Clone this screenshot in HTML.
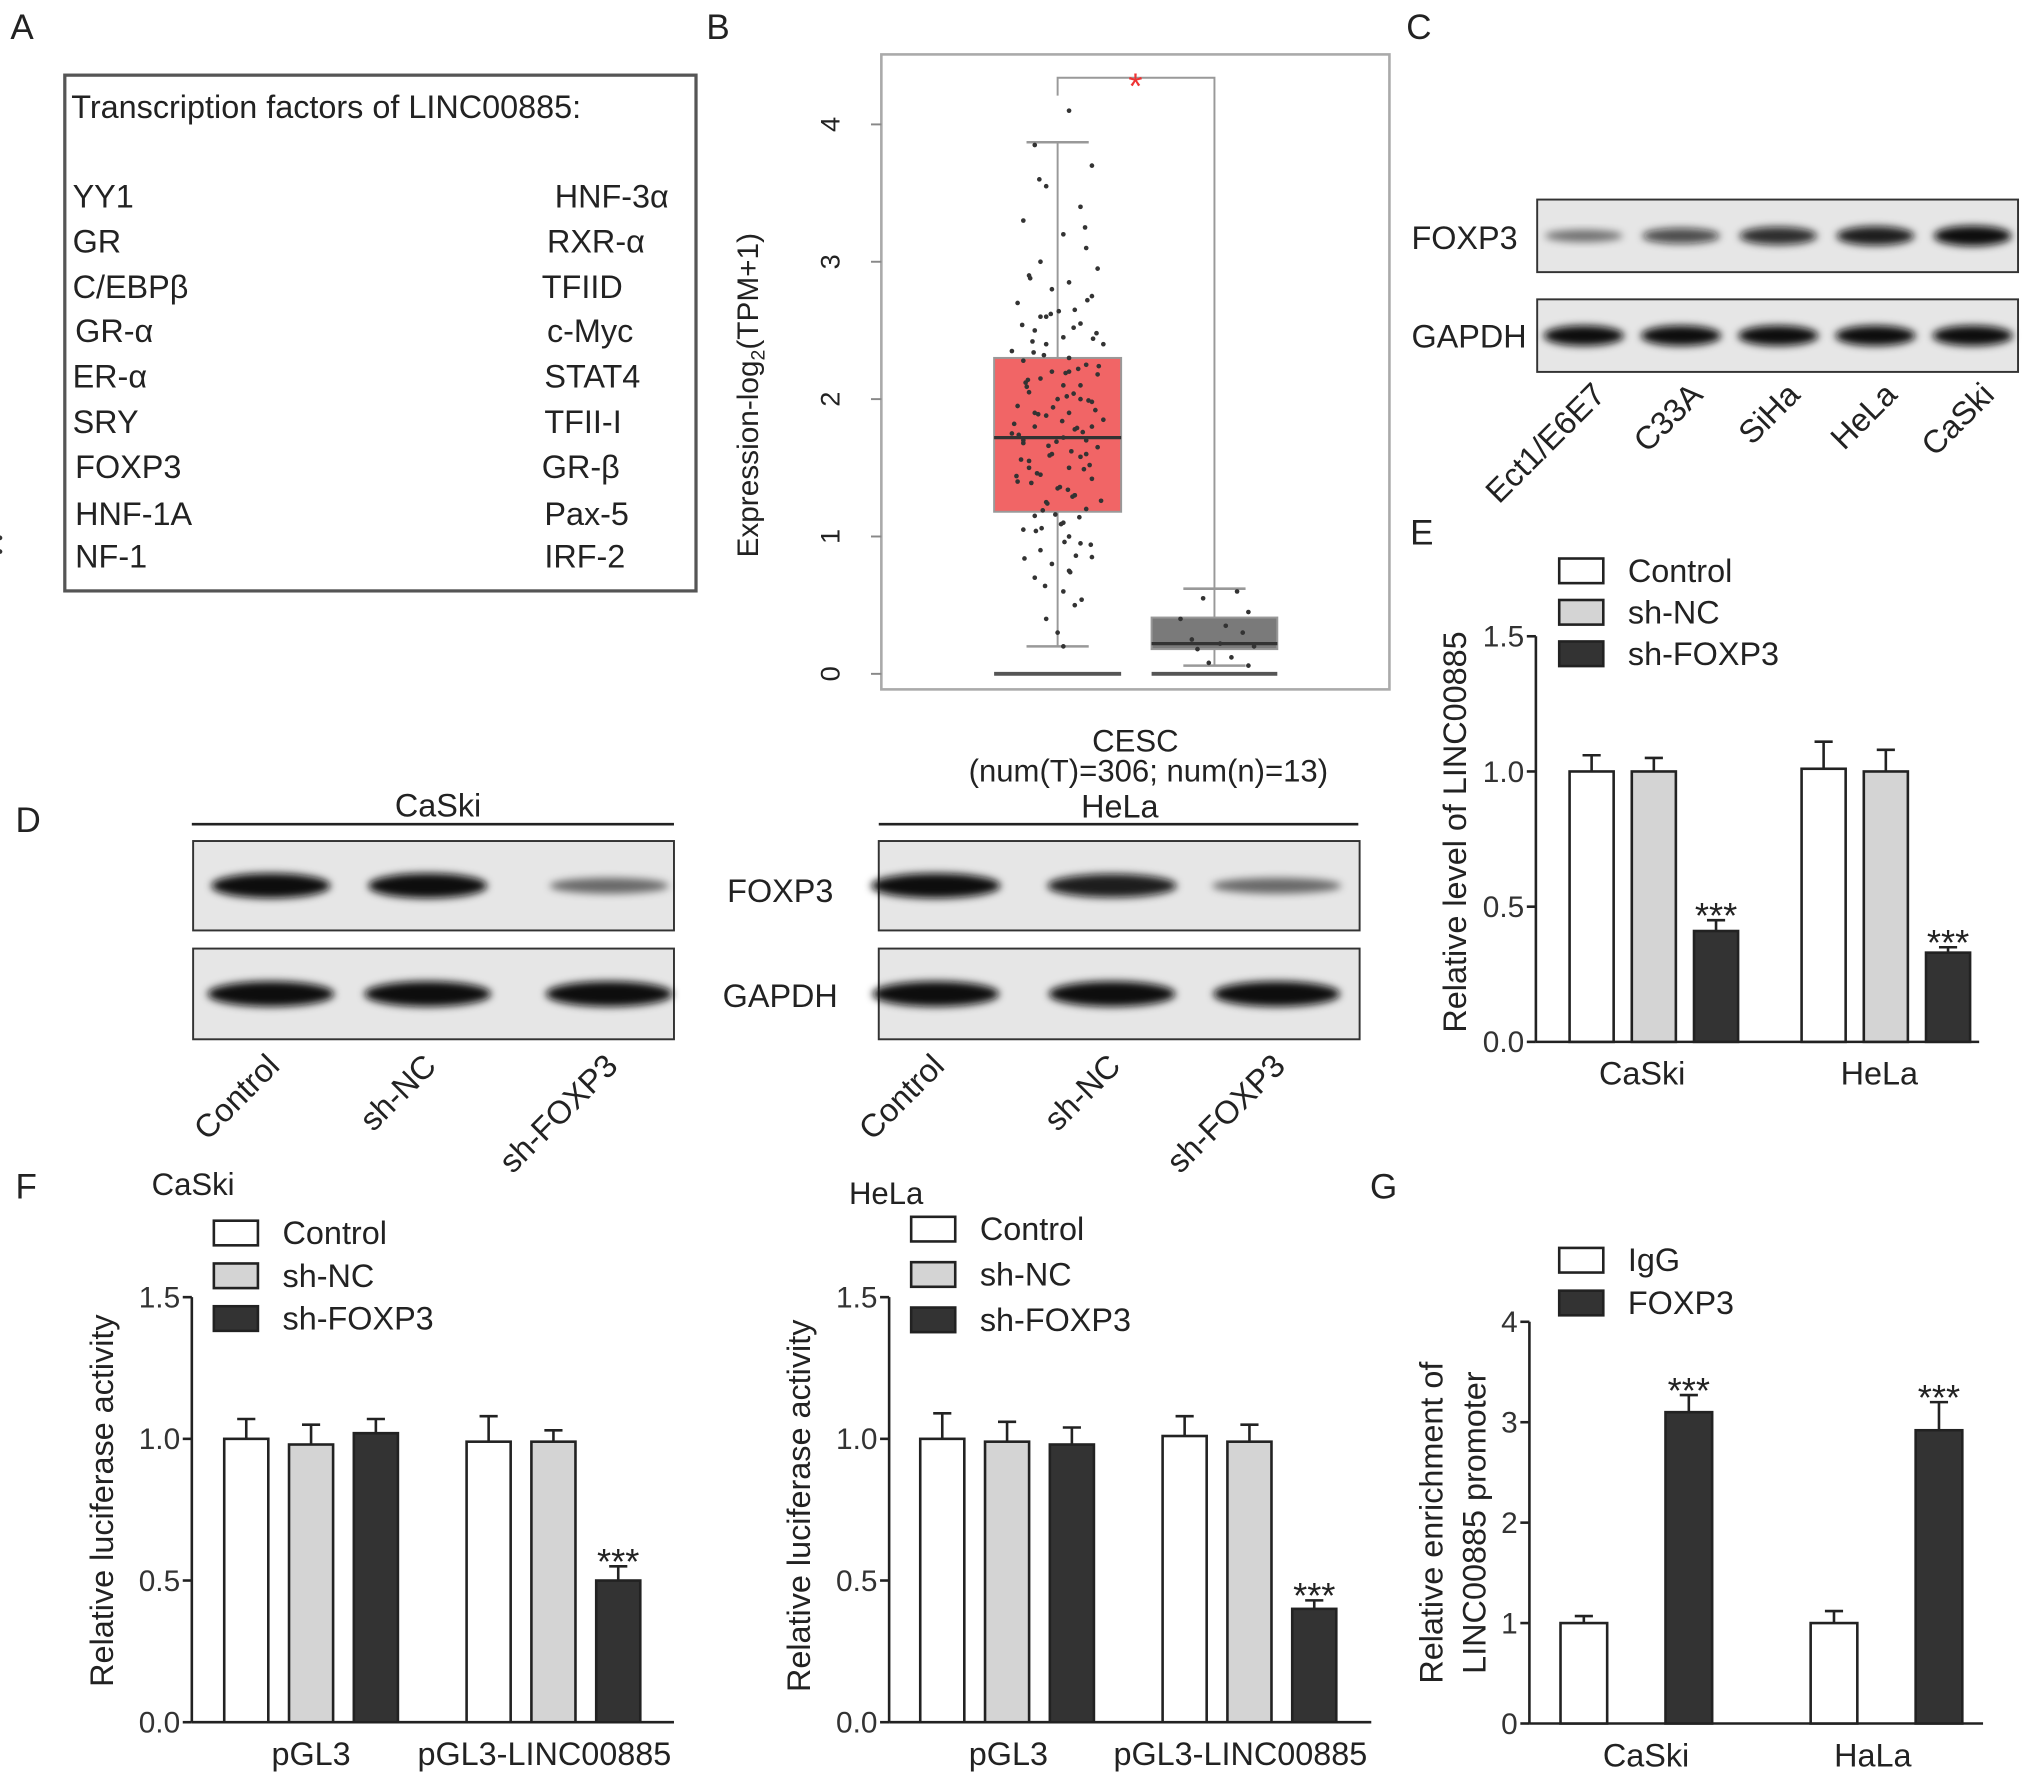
<!DOCTYPE html>
<html><head><meta charset="utf-8">
<style>
html,body{margin:0;padding:0;background:#fff;}
svg{display:block;font-family:"Liberation Sans",Arial,sans-serif;}
</style></head>
<body>
<svg id="fig" width="2031" height="1787" viewBox="0 0 1567 1379" preserveAspectRatio="none" xmlns="http://www.w3.org/2000/svg">
<defs><filter id="blur" x="-20%" y="-50%" width="140%" height="200%"><feGaussianBlur stdDeviation="3"/></filter></defs>
<rect width="1567" height="1379" fill="#fff"/>
<g font-size="27" fill="#222">
<text x="8" y="30">A</text><text x="545" y="30">B</text><text x="1085" y="30">C</text>
<text x="12" y="642">D</text><text x="1088" y="420">E</text><text x="12" y="925">F</text><text x="1057" y="925">G</text>
</g>
<g font-size="25" fill="#222">
<rect x="50" y="58" width="487" height="398" fill="none" stroke="#555" stroke-width="2.5"/>
<text x="55" y="91">Transcription factors of LINC00885:</text>
<text x="56" y="160">YY1</text><text x="56" y="195">GR</text><text x="56" y="230">C/EBPβ</text>
<text x="58" y="264">GR-α</text><text x="56" y="299">ER-α</text><text x="56" y="334">SRY</text>
<text x="58" y="369">FOXP3</text><text x="58" y="405">HNF-1A</text><text x="58" y="438">NF-1</text>
<text x="428" y="160">HNF-3α</text><text x="422" y="195">RXR-α</text><text x="418" y="230">TFIID</text>
<text x="422" y="264">c-Myc</text><text x="420" y="299">STAT4</text><text x="420" y="334">TFII-I</text>
<text x="418" y="369">GR-β</text><text x="420" y="405">Pax-5</text><text x="420" y="438">IRF-2</text>
</g>
<g id="panelB">
<rect x="680" y="42" width="392" height="490" fill="none" stroke="#aaa" stroke-width="2"/>
</g>
<g id="panelC" font-size="25" fill="#222">
<text x="1089" y="192">FOXP3</text><text x="1089" y="268">GAPDH</text>
</g>
<g id="panelD" font-size="25" fill="#222">
<line x1="148" y1="636" x2="520" y2="636" stroke="#222" stroke-width="2"/>
<text x="338" y="630" text-anchor="middle">CaSki</text>
<line x1="678" y1="636" x2="1048" y2="636" stroke="#222" stroke-width="2"/>
<text x="864" y="631" text-anchor="middle">HeLa</text>
<text x="602" y="696" text-anchor="middle">FOXP3</text>
<text x="602" y="777" text-anchor="middle">GAPDH</text>
</g>
<g id="charts"></g>
</svg>
<script>
const NS="http://www.w3.org/2000/svg";
function mk(tag,attrs,parent,txt){const e=document.createElementNS(NS,tag);for(const k in attrs)e.setAttribute(k,attrs[k]);if(txt!==undefined)e.textContent=txt;parent.appendChild(e);return e;}

const bTicks=[0,1,2,3,4];
const tumorBox=[0.2,1.18,1.72,2.3,3.87];
const normalBox=[0.06,0.18,0.22,0.41,0.62];
const tumorDots=[4.1,3.85,3.7,3.55,3.4,3.3,3.2,3.1,3.0,2.95,2.9,2.85,2.8,2.75,2.7,2.65,2.6,2.55,2.5,2.45,2.4,2.35,2.3,2.28,2.25,2.2,2.18,2.15,2.1,2.05,2.0,1.98,1.95,1.9,1.88,1.85,1.8,1.78,1.75,1.72,1.7,1.68,1.65,1.6,1.58,1.55,1.5,1.45,1.42,1.4,1.35,1.3,1.25,1.2,1.15,1.1,1.05,1.0,0.95,0.9,0.85,0.8,0.75,0.7,0.6,0.5,0.4,0.3,0.2,2.0,1.9,1.8,1.7,2.2,2.4,1.6,1.5,1.3,2.6,2.1,
2.32,2.22,2.12,2.02,1.92,1.82,1.76,1.66,1.62,1.56,1.52,1.46,1.36,1.26,1.16,2.42,2.52,2.62,2.72,1.06,0.96,0.86,3.6,3.25,2.88,2.48,1.74,1.84,1.94,2.04,2.14,2.24,1.44,1.34,1.24,1.14,1.04,0.94,0.84,0.74,0.64,0.54,2.34,2.44,2.54,2.64,1.69,1.79,1.89,1.99,2.09,2.19,1.59,1.49,1.39,1.29,1.19,1.09,0.99,0.89];
const tumorJitter=[0.1,-0.2,0.3,-0.1,0.2,-0.3,0.05,0.25,-0.15,0.35,-0.25,0.1,-0.05,0.3,-0.35,0.15,-0.1,0.2,-0.2,0.05,0.4,-0.4,0.1,-0.3,0.25,-0.05,0.35,-0.15,0.2,-0.25,0.0,0.3,-0.35,0.1,-0.1,0.4,-0.2,0.15,-0.4,0.05,0.25,-0.3,0.35,-0.05,0.2,-0.25,0.1,-0.15,0.3,-0.35,0.0,0.15,-0.1,0.25,-0.2,0.05,-0.3,0.1,0.2,-0.15,0.3,-0.05,0.1,-0.2,0.05,0.15,-0.1,0.0,0.05,0.2,-0.2,0.3,-0.3,0.1,-0.1,0.25,-0.25,0.15,-0.15,0.05,
-0.12,0.18,-0.28,0.08,0.33,-0.38,0.22,-0.08,0.12,-0.32,0.28,-0.18,0.02,0.38,-0.02,-0.22,0.14,-0.06,0.26,-0.14,0.06,0.16,-0.16,0.24,-0.24,0.34,-0.34,0.04,-0.04,0.14,-0.26,0.36,-0.36,0.09,-0.09,0.19,-0.19,0.29,-0.29,0.11,-0.11,0.21,-0.21,0.31,-0.31,0.01,-0.01,0.17,-0.17,0.27,-0.27,0.07,-0.07,0.23,-0.23,0.13,-0.13,0.03];
const normalDots=[0.6,0.55,0.45,0.4,0.35,0.3,0.25,0.22,0.2,0.18,0.12,0.08,0.06];
const normalJitter=[0.2,-0.1,0.3,-0.3,0.1,0.25,-0.2,0.05,0.35,-0.15,0.15,-0.05,0.3];

(function(){
  const g=document.getElementById('panelB');
  const y=v=>520-106*v;
  bTicks.forEach(t=>{
    const tk=mk('line',{x1:672,x2:680,y1:y(t),y2:y(t),stroke:'#888','stroke-width':1.5},g);
    
    const tl=mk('text',{x:642,y:y(t),'font-size':21,fill:'#222','text-anchor':'middle',transform:`rotate(-90 642 ${y(t)})`,'dominant-baseline':'middle'},g,String(t));
    
  });
  function box(q,cx,w,fill,dots,jit,name){
    const gg=mk('g',{},g);
    mk('line',{x1:cx,x2:cx,y1:y(q[4]),y2:y(q[0]),stroke:'#999','stroke-width':1.5},gg);
    mk('line',{x1:cx-24,x2:cx+24,y1:y(q[4]),y2:y(q[4]),stroke:'#999','stroke-width':2},gg);
    mk('line',{x1:cx-24,x2:cx+24,y1:y(q[0]),y2:y(q[0]),stroke:'#999','stroke-width':2},gg);
    mk('rect',{x:cx-w/2,y:y(q[3]),width:w,height:y(q[1])-y(q[3]),fill:fill,stroke:'#999','stroke-width':1.5},gg);
    mk('line',{x1:cx-w/2,x2:cx+w/2,y1:y(q[2]),y2:y(q[2]),stroke:'#333','stroke-width':2.5},gg);
    mk('line',{x1:cx-w/2,x2:cx+w/2,y1:y(0),y2:y(0),stroke:'#555','stroke-width':3},gg);
    dots.forEach((v,i)=>{const d=mk('circle',{cx:cx+jit[i]*w*0.9,cy:y(v),r:1.8,fill:'#333'},gg);});
  }
  box(tumorBox,816,98,'#f16566',tumorDots,tumorJitter,'tumor-box');
  box(normalBox,937,97,'#7a7a7a',normalDots,normalJitter,'normal-box');
  mk('path',{d:`M816 ${y(tumorBox[4])-36} V60 H937 V${y(normalBox[4])}`,fill:'none',stroke:'#999','stroke-width':1.5},g);
  mk('text',{x:876,y:76,'font-size':28,fill:'#e33','text-anchor':'middle'},g,'*');
  const yt=mk('text',{x:585,y:305,'font-size':23,fill:'#222','text-anchor':'middle',transform:'rotate(-90 585 305)'},g);
  
  yt.innerHTML='Expression-log<tspan font-size="15" dy="5">2</tspan><tspan dy="-5">(TPM+1)</tspan>';
  mk('text',{x:876,y:580,'font-size':24,fill:'#222','text-anchor':'middle'},g,'CESC');
  mk('text',{x:886,y:603,'font-size':24,fill:'#222','text-anchor':'middle'},g,'(num(T)=306; num(n)=13)');
})();

const cLanes=['Ect1/E6E7','C33A','SiHa','HeLa','CaSki'];
const cFoxp3=[0.3,0.6,0.8,0.9,1.0];
const dLanes=['Control','sh-NC','sh-FOXP3'];
const dCaskiFoxp3=[1.0,1.0,0.35];
const dHelaFoxp3=[1.0,0.9,0.35];
function blot(g,x,y,w,h,centers,intens,bw,name){
  const gg=mk('g',{},g);
  mk('rect',{x:x,y:y,width:w,height:h,fill:'#e6e6e6',stroke:'#333','stroke-width':1.5},gg);
  centers.forEach((c,i)=>{const v=intens[i];const bh=h*(0.12+0.16*v);
    const b=mk('ellipse',{cx:c,cy:y+h/2,rx:bw/2,ry:bh/2,fill:`rgba(10,10,10,${0.3+0.7*v})`,filter:'url(#blur)'},gg);
    });
}
(function(){
  const g=document.getElementById('panelC');
  const cx=i=>1222+75*i;
  blot(g,1186,154,371,56,cLanes.map((_,i)=>cx(i)),cFoxp3,60,'c-foxp3-blot');
  blot(g,1186,231,371,56,cLanes.map((_,i)=>cx(i)),cLanes.map(()=>1),62,'c-gapdh-blot');
  cLanes.forEach((l,i)=>{const t=mk('text',{x:cx(i)+18,y:306,'font-size':25,fill:'#222','text-anchor':'end',transform:`rotate(-45 ${cx(i)+18} 306)`},g,l);
    });
  const gd=document.getElementById('panelD');
  const a=[209,330,470],b=[722,858,985];
  blot(gd,149,649,371,69,a,dCaskiFoxp3,92,'d-caski-foxp3-blot');
  blot(gd,149,732,371,70,a,[1,1,1],98,'d-caski-gapdh-blot');
  blot(gd,678,649,371,69,b,dHelaFoxp3,100,'d-hela-foxp3-blot');
  blot(gd,678,732,371,70,b,[1,1,1],98,'d-hela-gapdh-blot');
  [a,b].forEach(arr=>arr.forEach((c,i)=>{const t=mk('text',{x:c+8,y:824,'font-size':25,fill:'#222','text-anchor':'end',transform:`rotate(-45 ${c+8} 824)`},gd,dLanes[i]);
    }));
})();

const eGroups=['CaSki','HeLa'];
const eControl=[1.0,1.01], eShNC=[1.0,1.0], eShFOXP3=[0.41,0.33];
const eErrControl=[0.06,0.10], eErrShNC=[0.05,0.08], eErrShFOXP3=[0.04,0.02];
const fGroups=['pGL3','pGL3-LINC00885'];
const fCaskiControl=[1.0,0.99], fCaskiShNC=[0.98,0.99], fCaskiShFOXP3=[1.02,0.50];
const fCaskiErrControl=[0.07,0.09], fCaskiErrShNC=[0.07,0.04], fCaskiErrShFOXP3=[0.05,0.05];
const fHelaControl=[1.0,1.01], fHelaShNC=[0.99,0.99], fHelaShFOXP3=[0.98,0.40];
const fHelaErrControl=[0.09,0.07], fHelaErrShNC=[0.07,0.06], fHelaErrShFOXP3=[0.06,0.03];
const gGroups=['CaSki','HaLa'];
const gIgG=[1.0,1.0], gFOXP3=[3.1,2.92];
const gErrIgG=[0.07,0.12], gErrFOXP3=[0.17,0.28];
const ticks15=['0.0','0.5','1.0','1.5'];
const ticks4=['0','1','2','3','4'];
const seriesNames3=['Control','sh-NC','sh-FOXP3'];
const seriesNames2=['IgG','FOXP3'];
const fills=['#fff','#d4d4d4','#333'];

function barChart(o){
  const g=mk('g',{},document.getElementById('charts'));
  
  const y=v=>o.y0-(o.y0-o.y1)*v/o.max;
  mk('line',{x1:o.ax,x2:o.ax,y1:y(o.max),y2:o.y0,stroke:'#222','stroke-width':2},g);
  mk('line',{x1:o.ax,x2:o.xe,y1:o.y0,y2:o.y0,stroke:'#222','stroke-width':2},g);
  o.ticks.forEach(t=>{const v=parseFloat(t);
    const tk=mk('line',{x1:o.ax-7,x2:o.ax,y1:y(v),y2:y(v),stroke:'#222','stroke-width':2},g);
    
    const tl=mk('text',{x:o.ax-9,y:y(v)+8,'font-size':23,fill:'#333','text-anchor':'end'},g,t);
    });
  o.series.forEach((s,si)=>{s.vals.forEach((v,gi)=>{
    const x=o.gx[gi]+si*o.step;
    const top=y(v), et=y(v+s.err[gi]);
    const e=mk('path',{d:`M${x+o.bw/2} ${top} V${et} M${x+o.bw/2-7} ${et} H${x+o.bw/2+7}`,stroke:'#222','stroke-width':2,fill:'none'},g);
    
    const r=mk('rect',{x:x,y:top,width:o.bw,height:o.y0-top,fill:fills[s.fi],stroke:'#222','stroke-width':2},g);
    
    if(s.star&&s.star[gi]){const st=mk('text',{x:x+o.bw/2,y:et+6,'font-size':28,fill:'#222','text-anchor':'middle'},g,'***');}
  });});
  o.groups.forEach((gn,gi)=>{const t=mk('text',{x:o.lx[gi],y:o.y0+33,'font-size':25,fill:'#222','text-anchor':'middle'},g,gn);
    });
  o.legendNames.forEach((n,i)=>{const ly=o.legY+i*o.legStep;
    const le=mk('g',{},g);
    mk('rect',{x:o.legX,y:ly-9,width:34,height:19,fill:fills[o.legFill[i]],stroke:'#222','stroke-width':2},le);
    mk('text',{x:o.legX+53,y:ly+9,'font-size':25,fill:'#222'},le,n);});
  o.titles.forEach(tt=>{const t=mk('text',{x:tt.x,y:tt.y,'font-size':25,fill:'#222','text-anchor':'middle',transform:`rotate(-90 ${tt.x} ${tt.y})`},g,tt.t);
    });
  if(o.caption){const c=mk('text',{x:o.caption.x,y:o.caption.y,'font-size':24,fill:'#222'},g,o.caption.t);}
}
barChart({name:'panel-e-bar-chart',ax:1185,xe:1527,y0:804,y1:491,max:1.5,ticks:ticks15,groups:eGroups,gx:[1211,1390],step:48,bw:34,lx:[1267,1450],
  series:[{name:'Control',vals:eControl,err:eErrControl,fi:0},{name:'sh-NC',vals:eShNC,err:eErrShNC,fi:1},{name:'sh-FOXP3',vals:eShFOXP3,err:eErrShFOXP3,fi:2,star:[1,1]}],
  legendNames:seriesNames3,legFill:[0,1,2],legX:1203,legY:440,legStep:32,titles:[{x:1131,y:642,t:'Relative level of LINC00885'}]});
barChart({name:'panel-f-caski-bar-chart',ax:148,xe:520,y0:1329,y1:1001,max:1.5,ticks:ticks15,groups:fGroups,gx:[173,360],step:50,bw:34,lx:[240,420],
  series:[{name:'Control',vals:fCaskiControl,err:fCaskiErrControl,fi:0},{name:'sh-NC',vals:fCaskiShNC,err:fCaskiErrShNC,fi:1},{name:'sh-FOXP3',vals:fCaskiShFOXP3,err:fCaskiErrShFOXP3,fi:2,star:[0,1]}],
  legendNames:seriesNames3,legFill:[0,1,2],legX:165,legY:951,legStep:33,titles:[{x:87,y:1158,t:'Relative luciferase activity'}],caption:{x:117,y:922,t:'CaSki'}});
barChart({name:'panel-f-hela-bar-chart',ax:686,xe:1058,y0:1329,y1:1001,max:1.5,ticks:ticks15,groups:fGroups,gx:[710,897],step:50,bw:34,lx:[778,957],
  series:[{name:'Control',vals:fHelaControl,err:fHelaErrControl,fi:0},{name:'sh-NC',vals:fHelaShNC,err:fHelaErrShNC,fi:1},{name:'sh-FOXP3',vals:fHelaShFOXP3,err:fHelaErrShFOXP3,fi:2,star:[0,1]}],
  legendNames:seriesNames3,legFill:[0,1,2],legX:703,legY:948,legStep:35,titles:[{x:625,y:1162,t:'Relative luciferase activity'}],caption:{x:655,y:929,t:'HeLa'}});
barChart({name:'panel-g-bar-chart',ax:1180,xe:1530,y0:1330,y1:1020,max:4,ticks:ticks4,groups:gGroups,gx:[1204,1397],step:81,bw:36,lx:[1270,1445],
  series:[{name:'IgG',vals:gIgG,err:gErrIgG,fi:0},{name:'FOXP3',vals:gFOXP3,err:gErrFOXP3,fi:2,star:[1,1]}],
  legendNames:seriesNames2,legFill:[0,2],legX:1203,legY:972,legStep:33,titles:[{x:1113,y:1175,t:'Relative enrichment of'},{x:1146,y:1175,t:'LINC00885 promoter'}]});
</script>
</body></html>
